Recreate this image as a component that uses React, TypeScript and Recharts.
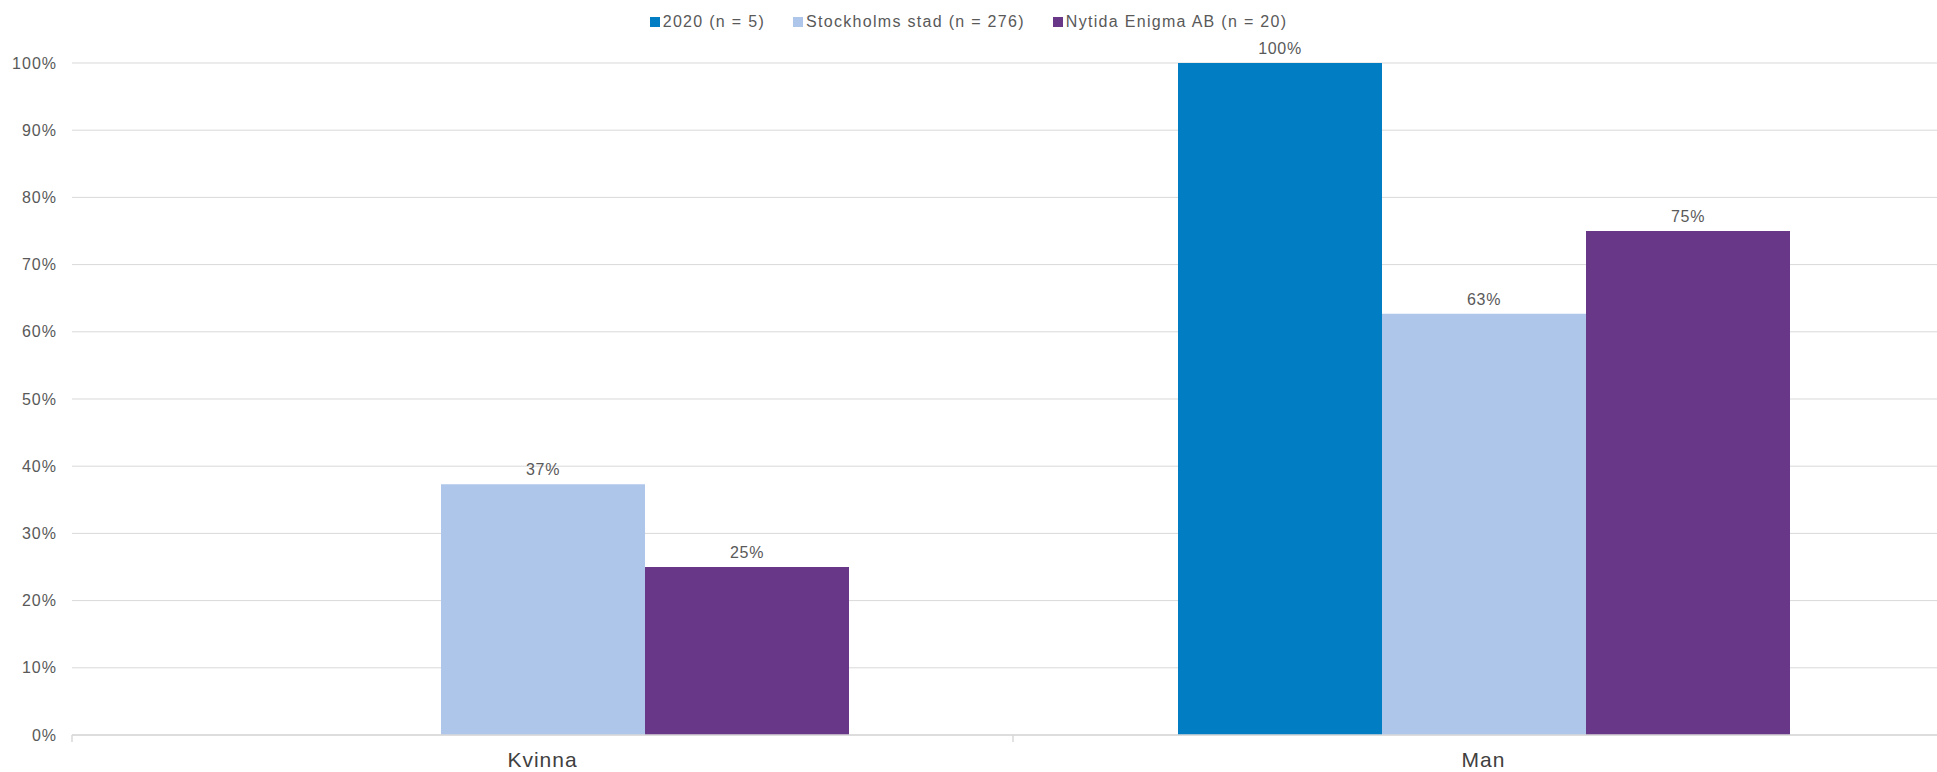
import React from 'react';
import { BarChart, Bar, XAxis, YAxis, CartesianGrid, Legend, LabelList } from 'recharts';

const categories = ['Kvinna', 'Man'];
const series2020 = [null, 100];
const seriesStockholm = [37.3, 62.7];
const seriesNytida = [25, 75];
const yTicks = [0, 10, 20, 30, 40, 50, 60, 70, 80, 90, 100];

const seriesDefs = [
  { key: 's2020', name: '2020 (n = 5)', color: '#007dc3' },
  { key: 'sthlm', name: 'Stockholms stad (n = 276)', color: '#aec6ea' },
  { key: 'nytida', name: 'Nytida Enigma AB (n = 20)', color: '#693788' },
];

const data = categories.map((c, i) => ({
  cat: c,
  s2020: series2020[i],
  sthlm: seriesStockholm[i],
  nytida: seriesNytida[i],
}));

const FONT = '"Liberation Sans", Arial, sans-serif';

const fmtLabel = (v: any) => (v === null || v === undefined || v === 0 ? '' : `${Math.round(v)}%`);

const XTick = (props: any) => {
  const { x, y, payload, width, visibleTicksCount, index } = props;
  const half = payload && payload.offset ? payload.offset : width / (visibleTicksCount || 1) / 2;
  const isLast = index === (visibleTicksCount || 1) - 1;
  return (
    <g>
      <line x1={x - half} x2={x - half} y1={y} y2={y + 7} stroke="#d9d9d9" strokeWidth={1.5} />
      {isLast && <line x1={x + half} x2={x + half} y1={y} y2={y + 7} stroke="#d9d9d9" strokeWidth={1.5} />}
      <text x={x} y={y + 32} textAnchor="middle" fill="#404040" fontSize={21} fontFamily={FONT} style={{ letterSpacing: '1px' }}>
        {payload.value}
      </text>
    </g>
  );
};

const LegendContent = () => (
  <div style={{ height: 63, width: 1937, display: 'flex', justifyContent: 'center', alignItems: 'flex-start', paddingTop: 13, boxSizing: 'border-box', fontFamily: FONT, fontSize: 16, color: '#595959', letterSpacing: '1.3px' }}>
    {seriesDefs.map((s, i) => (
      <div key={s.key} style={{ display: 'flex', alignItems: 'center', marginRight: i < seriesDefs.length - 1 ? 28 : 0, lineHeight: '18px' }}>
        <span style={{ display: 'inline-block', width: 10, height: 10, background: s.color, marginRight: 3 }} />
        <span>{s.name}</span>
      </div>
    ))}
  </div>
);

export default function App() {
  return (
    <div style={{ position: 'absolute', left: 0, top: 0, width: 1937, height: 772, overflow: 'hidden', background: '#fff' }}>
      <BarChart width={1954} height={772} data={data} margin={{ top: 0, right: 0, bottom: 0, left: 0 }} barGap={0} barSize={204}>
        <Legend verticalAlign="top" align="left" content={<LegendContent />} wrapperStyle={{ top: 0, left: 0, width: 1937, height: 63 }} />
        <CartesianGrid vertical={false} stroke="#d9d9d9" />
        <XAxis dataKey="cat" height={37} axisLine={{ stroke: '#d9d9d9', strokeWidth: 1.5 }} tickLine={false} tickSize={0} tickMargin={0} tick={<XTick />} interval={0} />
        <YAxis width={72} domain={[0, 100]} ticks={yTicks} axisLine={false} tickLine={false} tickSize={0} tickMargin={15}
          tickFormatter={(v: number) => `${v}%`}
          tick={{ fill: '#595959', fontSize: 16, fontFamily: FONT, style: { letterSpacing: '1px' } }} />
        {seriesDefs.map((s) => (
          <Bar key={s.key} dataKey={s.key} name={s.name} fill={s.color} isAnimationActive={false}>
            <LabelList dataKey={s.key} position="top" offset={9} formatter={fmtLabel} fill="#595959" fontSize={16} fontFamily={FONT} style={{ letterSpacing: '0.7px' }} />
          </Bar>
        ))}
      </BarChart>
    </div>
  );
}
